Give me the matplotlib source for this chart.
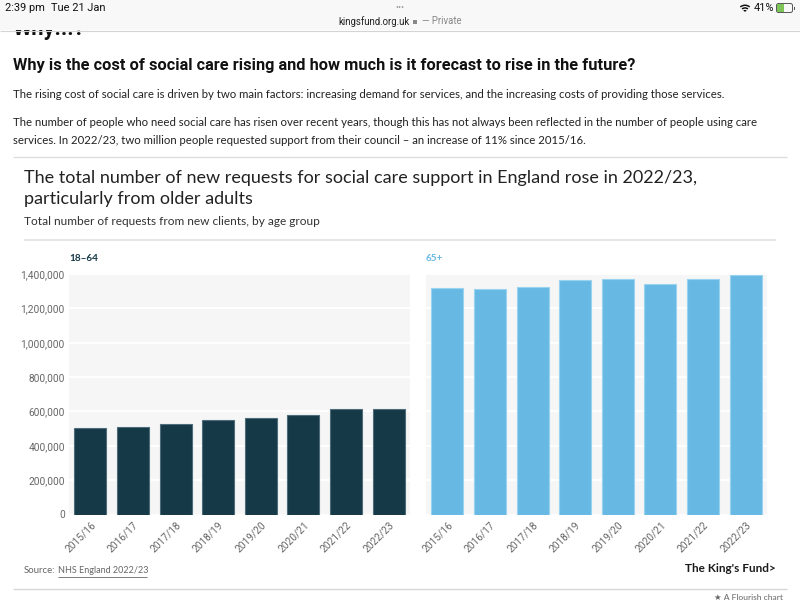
import matplotlib
matplotlib.use("Agg")
import matplotlib.pyplot as plt
from matplotlib.patches import Rectangle, FancyBboxPatch, Wedge

## DATA
years = ["2015/16", "2016/17", "2017/18", "2018/19", "2019/20", "2020/21", "2021/22", "2022/23"]
age_18_64 = [501000, 509000, 525000, 552000, 562000, 579000, 612000, 612000]
age_65_plus = [1317000, 1311000, 1326000, 1366000, 1372000, 1341000, 1369000, 1393000]
y_ticks = [0, 200000, 400000, 600000, 800000, 1000000, 1200000, 1400000]

DARK = "#163947"
LIGHT = "#67b9e4"
W, H = 800, 600

fig = plt.figure(figsize=(8, 6), dpi=100, facecolor="white")

# page layer, in pixel coordinates of the screenshot
page = fig.add_axes([0, 0, 1, 1], zorder=0)
page.set_xlim(0, W)
page.set_ylim(H, 0)
page.axis("off")


def txt(x, y, s, px, color="#222222", family="Lato", weight="normal", **kw):
    kw.setdefault("va", "center")
    return page.text(x, y, s, fontsize=px * 0.72, color=color, family=family, weight=weight, **kw)


def hline(y, x0, x1, color="#dddddd", lw=1.0):
    page.plot([x0, x1], [y, y], color=color, lw=lw, solid_capstyle="butt")


# browser bar
page.add_patch(Rectangle((0, 0), W, 30, fc="#f8f8f8", ec="none", zorder=5))
hline(30.5, 0, W, "#d4d4d4", 0.8)
txt(5, 8, "2:39 pm", 11, "#111111", "Roboto", zorder=6)
txt(51, 8, "Tue 21 Jan", 11, "#111111", "Roboto", zorder=6)
txt(400, 8, "•••", 9, "#999999", "Roboto", ha="center", zorder=6)
txt(374, 21.5, "kingsfund.org.uk", 9.6, "#222222", "Roboto", ha="center", zorder=6)
page.add_patch(Rectangle((413, 20), 4, 4, fc="#888888", ec="none", zorder=6))
txt(422, 21.5, "— Private", 9.6, "#888888", "Roboto", zorder=6)
# wifi, battery
for r in [8, 5.3, 2.6]:
    page.add_patch(Wedge((745, 12.5), r, 230, 310, width=1.5, fc="#111111", ec="none", zorder=6))
txt(754, 8, "41%", 11, "#111111", "Roboto", zorder=6)
page.add_patch(FancyBboxPatch((777, 4), 15, 8, boxstyle="round,pad=0.5,rounding_size=2", fc="none", ec="#555555", lw=0.7, zorder=6))
page.add_patch(Rectangle((777, 4), 7, 8, fc="#7cc35a", ec="none", zorder=6))
page.add_patch(Rectangle((793.5, 6.5), 1.2, 3, fc="#555555", ec="none", zorder=6))

# page text
txt(13, 29, "Why...?", 22, "#111111", "Roboto", "bold", zorder=1)
txt(13, 65.5, "Why is the cost of social care rising and how much is it forecast to rise in the future?", 16.4, "#111111", "Roboto", "bold")
txt(13, 95, "The rising cost of social care is driven by two main factors: increasing demand for services, and the increasing costs of providing those services.", 11.4, "#222222")
txt(13, 123, "The number of people who need social care has risen over recent years, though this has not always been reflected in the number of people using care", 11.4, "#222222")
txt(13, 140, "services. In 2022/23, two million people requested support from their council – an increase of 11% since 2015/16.", 11.4, "#222222")
hline(156.5, 13, 787, "#dddddd", 1.0)

# chart header
txt(24, 178.5, "The total number of new requests for social care support in England rose in 2022/23,", 18, "#222222")
txt(24, 199, "particularly from older adults", 18, "#222222")
txt(24, 221.5, "Total number of requests from new clients, by age group", 11.9, "#333333")
hline(240, 24, 776, "#dfe3e3", 1.2)

txt(69, 258.5, "18–64", 10, DARK, "Lato", "bold")
txt(426, 258.5, "65+", 10, LIGHT, "Lato", "bold")

# footer
txt(24, 570.5, "Source:", 9.6, "#666666")
txt(57.5, 570.5, "NHS England 2022/23", 9, "#666666")
hline(576.5, 57.5, 147, "#666666", 0.6)
hline(589, 13, 787, "#d8d8d8", 1.0)
txt(776, 568, "The King's Fund>", 11.8, "#1a1a1a", "Lato", "bold", ha="right")
txt(783, 597.5, "★ A Flourish chart", 8.5, "#666666", ["Lato", "DejaVu Sans"], ha="right")


def panel(x0, x1, values, color, edge, show_y):
    ax = fig.add_axes([x0 / W, 1 - 514.5 / H, (x1 - x0) / W, 240.5 / H], zorder=2)
    ax.set_facecolor("#f6f6f6")
    ax.bar(range(len(years)), values, width=0.75, color=color, edgecolor=edge, linewidth=0.8, zorder=3)
    ax.set_xlim(-0.5, len(years) - 0.5)
    ax.set_ylim(0, 1400000)
    ax.set_yticks(y_ticks)
    ax.grid(axis="y", color="white", lw=1.3, zorder=1)
    ax.set_axisbelow(True)
    for s in ax.spines.values():
        s.set_visible(False)
    ax.tick_params(length=0)
    if show_y:
        ax.set_yticklabels([f"{v:,}" for v in y_ticks], fontsize=7.3, color="#666666", family="Roboto")
        ax.tick_params(axis="y", pad=3)
    else:
        ax.set_yticklabels([])
    ax.set_xticks(range(len(years)))
    ax.set_xticklabels(years, rotation=45, ha="right", rotation_mode="anchor", fontsize=7.3,
                       color="#666666", family="Roboto")
    ax.tick_params(axis="x", pad=4)
    return ax


panel(69, 410, age_18_64, DARK, "#4d6d7a", True)
panel(426, 767, age_65_plus, LIGHT, "#9ad3ef", False)

fig.savefig("out.png", dpi=100)
